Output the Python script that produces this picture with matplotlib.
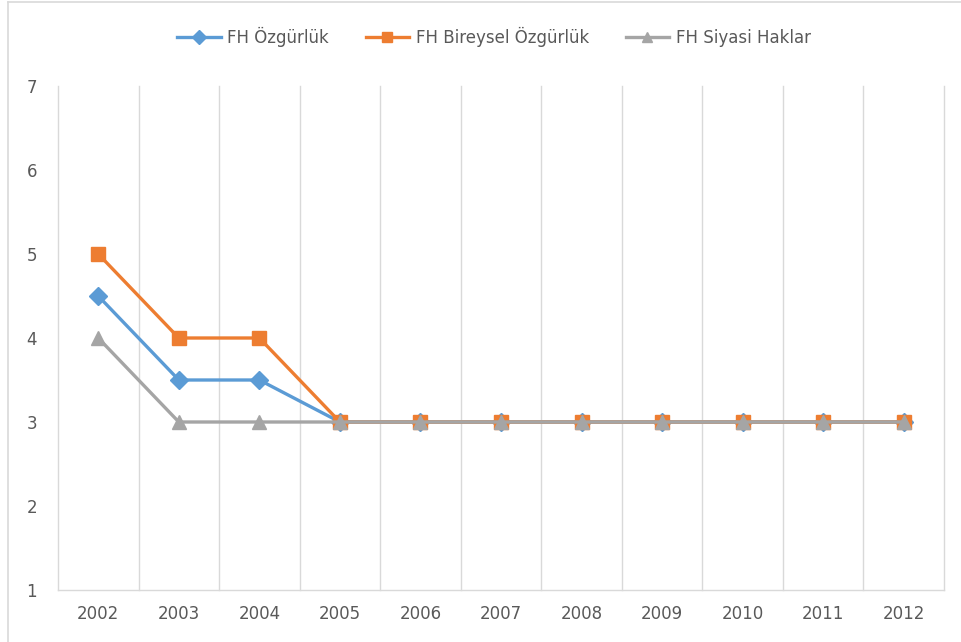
import matplotlib
matplotlib.use("Agg")
import matplotlib.pyplot as plt
from matplotlib.lines import Line2D
import numpy as np

years = ["2002", "2003", "2004", "2005", "2006", "2007", "2008", "2009", "2010", "2011", "2012"]
ozgurluk = [4.5, 3.5, 3.5, 3, 3, 3, 3, 3, 3, 3, 3]
bireysel = [5, 4, 4, 3, 3, 3, 3, 3, 3, 3, 3]
siyasi = [4, 3, 3, 3, 3, 3, 3, 3, 3, 3, 3]
series_names = ["FH Özgürlük", "FH Bireysel Özgürlük", "FH Siyasi Haklar"]
y_ticks = [1, 2, 3, 4, 5, 6, 7]

TXT = "#595959"
GRID = "#D9D9D9"

plt.rcParams['font.family'] = ['DejaVu Sans']

fig = plt.figure(figsize=(9.61, 6.42), dpi=100)
ax = fig.add_axes([58/961, 1-590/642, (944-58)/961, (590-86)/642])

x = np.arange(len(years))
ax.plot(x, ozgurluk, color="#5B9BD5", lw=2.4, marker="D", ms=9.5,
        label=series_names[0], zorder=3)
ax.plot(x, bireysel, color="#ED7D31", lw=2.4, marker="s", ms=10,
        label=series_names[1], zorder=4)
ax.plot(x, siyasi, color="#A5A5A5", lw=2.4, marker="^", ms=10,
        label=series_names[2], zorder=5)

ax.set_xlim(-0.5, len(years) - 0.5)
ax.set_ylim(1, 7)
ax.set_yticks(y_ticks)
ax.set_yticklabels([str(v) for v in y_ticks])
ax.set_xticks(x)
ax.set_xticklabels(years)

for b in np.arange(-0.5, len(years), 1.0):
    ax.axvline(b, color=GRID, lw=1.0, zorder=1, clip_on=False)

for s in ["top", "right", "left"]:
    ax.spines[s].set_visible(False)
ax.spines["bottom"].set_color(GRID)
ax.spines["bottom"].set_linewidth(1.0)

ax.tick_params(axis="both", length=0, colors=TXT, labelsize=12)
ax.tick_params(axis="x", pad=11)
ax.tick_params(axis="y", pad=15)

fig.legend(loc="center", bbox_to_anchor=(494/961, 1-37/642), ncol=3,
           frameon=False, fontsize=12, handlelength=2.6, columnspacing=2.2,
           handletextpad=0.4, labelcolor=TXT, markerscale=0.7)

# chart area border (left and top edges visible)
fig.add_artist(Line2D([8/961, 8/961], [0, 1-2/642], transform=fig.transFigure,
                      color=GRID, lw=1.2))
fig.add_artist(Line2D([8/961, 1.01], [1-2/642, 1-2/642], transform=fig.transFigure,
                      color=GRID, lw=1.2))

fig.savefig("out.png", dpi=100, facecolor="white")
